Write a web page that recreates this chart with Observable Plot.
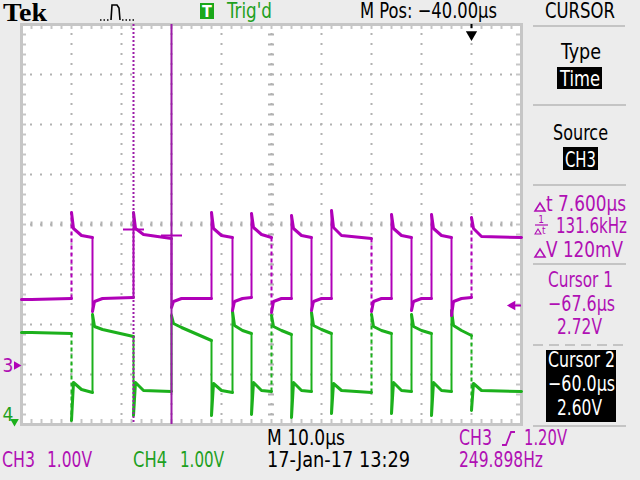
<!DOCTYPE html>
<html><head><meta charset="utf-8">
<script src="https://cdn.jsdelivr.net/npm/d3@7"></script>
<script src="https://cdn.jsdelivr.net/npm/@observablehq/plot@0.6"></script>
<style>
html,body{margin:0;padding:0;background:#ececec;}
#wrap{position:relative;width:640px;height:480px;overflow:hidden;background:#ececec;}
#wrap > svg{position:absolute;left:0;top:0;}
</style></head><body><div id="wrap"></div>
<script>
const timeDomain = [-90, 10];          // µs (10 µs/div, M Pos −40 µs at centre)
const divDomain = [-4, 4];             // vertical divisions
const majorX = [-80, -70, -60, -50, -40, -30, -20, -10, 0];
const majorY = [-3, -2, -1, 0, 1, 2, 3];
const ch3Offset = -2.82;               // CH3 ground marker (div)
const ch4Offset = -3.94;               // CH4 ground marker (div)
const trigLevel = 1.20;                // V, CH3 rising
const trigTime = 0;                    // µs

// switching edges (µs)
const edges = [-80, -75.8, -67.6, -60, -52, -47.8, -44, -40, -36, -32, -28, -20, -16, -12, -8, -4, 0];
const dashedEdges = [0, 7, 11, 16];

// CH3 (magenta), volts: overshoot at each edge, segment start / settled / end levels
const ch3Peak   = [3.06, 1.08, 3.06, 1.16, 3.06, 1.10, 3.04, 1.06, 3.00, 1.10, 3.10, 1.08, 3.02, 1.10, 3.02, 1.00, 2.96];
const ch3Start  = [1.32, 2.74, 1.28, 2.74, 1.28, 2.74, 1.28, 2.76, 1.28, 2.74, 1.28, 2.76, 1.28, 2.74, 1.28, 2.74, 1.28, 2.74];
const ch3Settle = [1.32, 2.60, 1.34, 2.62, 1.34, 2.60, 1.34, 2.62, 1.34, 2.60, 1.34, 2.60, 1.34, 2.60, 1.34, 2.60, 1.34, 2.58];
const ch3End    = [1.34, 2.56, 1.36, 2.54, 1.34, 2.56, 1.36, 2.56, 1.34, 2.56, 1.34, 2.54, 1.34, 2.56, 1.34, 2.56, 1.36, 2.56];

// CH4 (green), volts
const ch4Peak   = [0.02, 2.14, 0.12, 2.12, 0.12, 2.20, 0.14, 2.12, 0.08, 2.18, 0.16, 2.14, 0.16, 2.14, 0.12, 2.22, 0.22];
const ch4Start  = [1.78, 0.78, 1.90, 0.78, 1.96, 0.76, 1.92, 0.78, 1.90, 0.78, 1.92, 0.76, 1.90, 0.78, 1.90, 0.78, 1.92, 0.76];
const ch4Settle = [1.78, 0.64, 1.84, 0.62, 1.88, 0.62, 1.82, 0.62, 1.82, 0.62, 1.84, 0.62, 1.82, 0.62, 1.82, 0.62, 1.82, 0.62];
const ch4End    = [1.76, 0.58, 1.70, 0.60, 1.62, 0.58, 1.76, 0.60, 1.74, 0.60, 1.76, 0.58, 1.76, 0.60, 1.76, 0.60, 1.72, 0.60];

// cursors (time cursors on CH3)
const cursors = [
  {name: "Cursor 1", t: -67.6, v: 2.72, dashed: true},
  {name: "Cursor 2", t: -60.0, v: 2.60, dashed: false}
];

// ---------- styles ----------
const MAG = "#b000b8", GRN = "#1cb01c", CUR = "#9c1ca8", GRID = "#b2b2b2", FRAME = "#c6c6c6";
const TXT_M = "#b010b4", TXT_G = "#1ea01e";
const FONT = "'Liberation Sans Narrow','DejaVu Sans Condensed','Arial Narrow',sans-serif";

const minorX = d3.range(timeDomain[0], timeDomain[1] + 0.001, 2);
const minorY = d3.range(divDomain[0], divDomain[1] + 0.001, 0.2);

function trace(peak, start, settle, end, offset) {
  const segs = [], links = [];
  const n = edges.length;
  for (let i = 0; i <= n; i++) {
    const t0 = i === 0 ? timeDomain[0] : edges[i - 1];
    const t1 = i === n ? timeDomain[1] : edges[i];
    if (i === 0) segs.push({seg: i, t: t0, v: start[i] + offset});
    else {
      segs.push({seg: i, t: t0, v: peak[i - 1] + offset});
      segs.push({seg: i, t: t0 + 0.4, v: start[i] + offset});
    }
    if (t0 + 2 < t1) segs.push({seg: i, t: t0 + 2, v: settle[i] + offset});
    segs.push({seg: i, t: t1, v: end[i] + offset});
    if (i < n) links.push({t: t1, v1: end[i] + offset, v2: peak[i] + offset, dashed: dashedEdges.includes(i)});
  }
  return {segs, links};
}
const tr3 = trace(ch3Peak, ch3Start, ch3Settle, ch3End, ch3Offset);
const tr4 = trace(ch4Peak, ch4Start, ch4Settle, ch4End, ch4Offset);

function traceMarks(tr, color) {
  return [
    Plot.line(tr.segs, {x: "t", y: "v", z: "seg", stroke: color, strokeWidth: 3, strokeLinejoin: "round"}),
    Plot.link(tr.links, {filter: d => !d.dashed, x1: "t", x2: "t", y1: "v1", y2: "v2", stroke: color, strokeWidth: 2}),
    Plot.link(tr.links, {filter: d => d.dashed, x1: "t", x2: "t", y1: "v1", y2: "v2", stroke: color, strokeWidth: 2, strokeDasharray: "4,3"})
  ];
}

const chart = Plot.plot({
  width: 640, height: 480,
  marginLeft: 21, marginRight: 119, marginTop: 24, marginBottom: 56,
  x: {domain: timeDomain, axis: null},
  y: {domain: divDomain, axis: null},
  style: {background: "transparent", fontFamily: FONT, overflow: "visible"},
  marks: [
    Plot.frame({fill: "white"}),
    // dotted graticule
    Plot.ruleX(majorX, {stroke: GRID, strokeWidth: 2, strokeDasharray: "2,8", strokeDashoffset: 1}),
    Plot.ruleY(majorY, {stroke: GRID, strokeWidth: 2, strokeDasharray: "2,8", strokeDashoffset: 1}),
    // centre cross minor ticks
    Plot.ruleY(minorY, {x1: -40.6, x2: -39.4, stroke: GRID, strokeWidth: 2}),
    Plot.ruleX(minorX, {y1: -0.05, y2: 0.05, stroke: GRID, strokeWidth: 2}),
    // frame minor ticks
    Plot.ruleX(minorX, {y1: divDomain[1], y2: divDomain[1] - 0.1, stroke: FRAME, strokeWidth: 2}),
    Plot.ruleX(minorX, {y1: divDomain[0], y2: divDomain[0] + 0.1, stroke: FRAME, strokeWidth: 2}),
    Plot.ruleY(minorY, {x1: timeDomain[0], x2: timeDomain[0] + 1, stroke: FRAME, strokeWidth: 2}),
    Plot.ruleY(minorY, {x1: timeDomain[1], x2: timeDomain[1] - 1, stroke: FRAME, strokeWidth: 2}),
    Plot.frame({stroke: FRAME, strokeWidth: 3}),
    // traces
    ...traceMarks(tr4, GRN),
    ...traceMarks(tr3, MAG),
    // cursors
    Plot.ruleX(cursors.filter(d => d.dashed), {x: "t", stroke: CUR, strokeWidth: 2, strokeDasharray: "2,2"}),
    Plot.ruleX(cursors.filter(d => !d.dashed), {x: "t", stroke: CUR, strokeWidth: 2}),
    Plot.link(cursors, {x1: d => d.t - 2.1, x2: d => d.t + 2.1, y1: d => d.v + ch3Offset, y2: d => d.v + ch3Offset, stroke: MAG, strokeWidth: 2}),
    // ground markers
    Plot.dot([ch3Offset], {x: timeDomain[0], y: d => d, symbol: "triangle", rotate: 90, r: 3.2, fill: MAG, dx: -5}),
    Plot.text(["3"], {x: timeDomain[0], y: ch3Offset, dx: -19, textAnchor: "start", fill: TXT_M, fontSize: 19}),
    Plot.dot([ch4Offset], {x: timeDomain[0], y: d => d, symbol: "triangle", rotate: 180, r: 3.2, fill: GRN, dx: -7}),
    Plot.text(["4"], {x: timeDomain[0], y: ch4Offset, dx: -19, dy: -7, textAnchor: "start", fill: TXT_G, fontSize: 19}),
    // trigger level marker (right edge)
    Plot.dot([trigLevel + ch3Offset], {x: timeDomain[1], y: d => d, symbol: "triangle", rotate: -90, r: 3.6, fill: MAG, dx: -9}),
    Plot.ruleY([trigLevel + ch3Offset], {x1: timeDomain[1] - 1.4, x2: timeDomain[1], stroke: MAG, strokeWidth: 2}),
    // trigger position marker (top)
    Plot.ruleX([trigTime], {y1: divDomain[1], y2: divDomain[1] - 0.08, stroke: "black", strokeWidth: 2}),
    Plot.dot([trigTime], {x: d => d, y: divDomain[1], symbol: "triangle", rotate: 180, r: 4.2, fill: "black", dy: 10})
  ]
});
document.getElementById("wrap").appendChild(chart);

// ---------- screen annotations (text overlay) ----------
const NS = "http://www.w3.org/2000/svg";
const ov = document.createElementNS(NS, "svg");
ov.setAttribute("width", 640); ov.setAttribute("height", 480);
document.getElementById("wrap").appendChild(ov);
function el(tag, attrs, text) {
  const e = document.createElementNS(NS, tag);
  for (const k in attrs) e.setAttribute(k, attrs[k]);
  if (text != null) e.textContent = text;
  ov.appendChild(e); return e;
}
function txt(x, y, s, o = {}) {
  const a = {x, y, fill: o.fill || "#000", "font-family": o.family || FONT, "font-size": o.size || 21,
             "text-anchor": o.anchor || "start"};
  if (o.weight) a["font-weight"] = o.weight;
  if (o.w) { a.textLength = o.w; a.lengthAdjust = "spacingAndGlyphs"; }
  return el("text", a, s);
}
function line(x1, y1, x2, y2, stroke, w = 2, dash) {
  const a = {x1, y1, x2, y2, stroke, "stroke-width": w};
  if (dash) a["stroke-dasharray"] = dash;
  el("line", a);
}
function delta(x, y, color) { // small outline triangle symbol
  el("path", {d: `M${x},${y} L${x + 5},${y - 8} L${x + 10},${y} Z`, fill: "none", stroke: color, "stroke-width": 1.6});
}

// top bar
txt(3, 21, "Tek", {family: "'Liberation Serif','DejaVu Serif',serif", size: 26, weight: "bold", w: 44});
el("path", {d: "M100,20 L110,20", stroke: "#000", "stroke-width": 1.5, "stroke-dasharray": "1.5,2", fill: "none"});
el("path", {d: "M111,20 L112,5 L117,5 L119,8 L120,20", stroke: "#000", "stroke-width": 1.6, fill: "none"});
el("path", {d: "M122,20 L135,20", stroke: "#000", "stroke-width": 1.5, "stroke-dasharray": "1.5,2", fill: "none"});
el("rect", {x: 200, y: 3, width: 14, height: 16, fill: "#1aa81a"});
txt(207, 17, "T", {fill: "#fff", size: 16, anchor: "middle", weight: "bold"});
txt(227, 18, "Trig'd", {fill: TXT_G, w: 45});
txt(360, 18, "M Pos: \u221240.00\u00b5s", {w: 137});
txt(545, 18, "CURSOR", {w: 70});
line(533, 26, 625, 26, "#c4c4c4");

// right panel
txt(561, 59, "Type", {w: 40});
el("rect", {x: 557, y: 67, width: 45, height: 22, fill: "#000"});
txt(560, 86, "Time", {fill: "#fff", w: 40});
line(533, 105, 626, 105, "#c4c4c4");
txt(553, 140, "Source", {w: 55});
el("rect", {x: 563, y: 147, width: 35, height: 23, fill: "#000"});
txt(565, 167, "CH3", {fill: "#fff", w: 31});
line(533, 185, 626, 185, "#c4c4c4");

delta(535, 211, TXT_M);
txt(546, 211, "t 7.600\u00b5s", {fill: TXT_M, w: 80});
txt(541, 223, "1", {fill: TXT_M, size: 10, anchor: "middle"});
line(535, 225, 548, 225, TXT_M, 1.2);
el("path", {d: "M535,234 L538,229 L541,234 Z", fill: "none", stroke: TXT_M, "stroke-width": 1.1});
txt(542, 234, "t", {fill: TXT_M, size: 10});
txt(556, 233, "131.6kHz", {fill: TXT_M, w: 71});
delta(535, 257, TXT_M);
txt(546, 257, "V 120mV", {fill: TXT_M, w: 77});
line(533, 264, 626, 264, "#c4c4c4");
txt(548, 287, "Cursor 1", {fill: TXT_M, w: 65});
txt(548, 311, "\u221267.6\u00b5s", {fill: TXT_M, w: 67});
txt(557, 334, "2.72V", {fill: TXT_M, w: 45});
line(533, 345, 626, 345, "#c4c4c4", 2, "10,6");
el("rect", {x: 546, y: 350, width: 70, height: 72, fill: "#000"});
txt(548, 367, "Cursor 2", {fill: "#fff", w: 67});
txt(548, 391, "\u221260.0\u00b5s", {fill: "#fff", w: 67});
txt(557, 415, "2.60V", {fill: "#fff", w: 45});
line(533, 426, 626, 426, "#c4c4c4");

// bottom bar
txt(267, 445, "M 10.0\u00b5s", {w: 78});
txt(459, 445, "CH3", {fill: TXT_M, w: 33});
el("path", {d: "M502,445 L506,445 L511,432 L515,432", fill: "none", stroke: TXT_M, "stroke-width": 1.8});
txt(524, 445, "1.20V", {fill: TXT_M, w: 43});
txt(2, 467, "CH3", {fill: TXT_M, w: 33});
txt(47, 467, "1.00V", {fill: TXT_M, w: 45});
txt(133, 467, "CH4", {fill: TXT_G, w: 34});
txt(180, 467, "1.00V", {fill: TXT_G, w: 44});
txt(267, 467, "17-Jan-17 13:29", {w: 143});
txt(459, 467, "249.898Hz", {fill: TXT_M, w: 84});
</script></body></html>
